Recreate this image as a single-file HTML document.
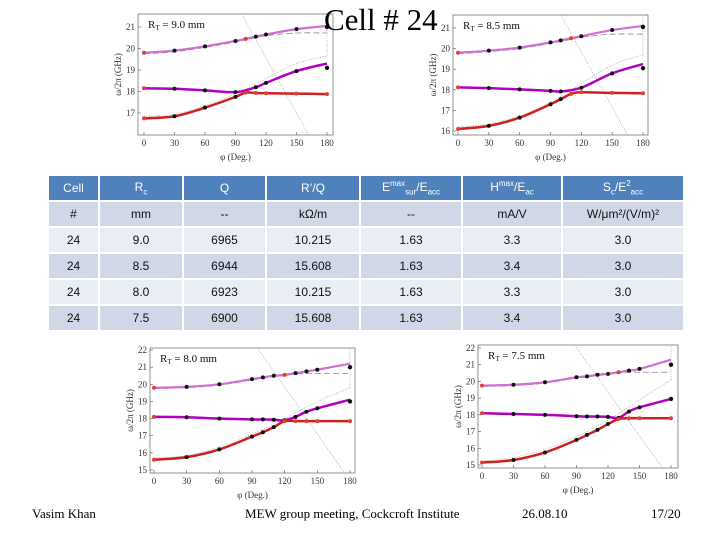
<!DOCTYPE html>
<html><head><meta charset="utf-8"><style>
body{margin:0;width:720px;height:540px;background:#fff;position:relative;overflow:hidden;font-family:"Liberation Serif",serif}
.t{position:absolute;white-space:nowrap}
table{position:absolute;left:49px;top:174px;border-collapse:separate;border-spacing:0 2px;font-family:"Liberation Sans Narrow","Liberation Sans",sans-serif;font-size:12px;color:#111}
td{height:24px;text-align:center;padding:0;border-right:2px solid #fff}
tr.h td{background:#4f81bd;color:#fff}
tr.d td{background:#d0d8e8}
tr.l td{background:#e9edf4}
sub,sup{font-size:8px}
</style></head><body>
<svg id="sv" width="720" height="540" style="position:absolute;left:0;top:0"></svg>
<div class="t" style="left:324px;top:2px;font-size:31px">Cell # 24</div>
<table>
<tr class="h"><td style="width:49px">Cell</td><td style="width:82px">R<sub>c</sub></td><td style="width:81px">Q</td><td style="width:92px">R’/Q</td><td style="width:100px">E<sup>max</sup><sub>sur</sub>/E<sub>acc</sub></td><td style="width:98px">H<sup>max</sup>/E<sub>ac</sub></td><td style="width:120px;border-right:0">S<sub>c</sub>/E<sup>2</sup><sub>acc</sub></td></tr>
<tr class="d"><td>#</td><td>mm</td><td>--</td><td>kΩ/m</td><td>--</td><td>mA/V</td><td style="border-right:0">W/μm²/(V/m)²</td></tr>
<tr class="l"><td>24</td><td>9.0</td><td>6965</td><td>10.215</td><td>1.63</td><td>3.3</td><td style="border-right:0">3.0</td></tr>
<tr class="d"><td>24</td><td>8.5</td><td>6944</td><td>15.608</td><td>1.63</td><td>3.4</td><td style="border-right:0">3.0</td></tr>
<tr class="l"><td>24</td><td>8.0</td><td>6923</td><td>10.215</td><td>1.63</td><td>3.3</td><td style="border-right:0">3.0</td></tr>
<tr class="d"><td>24</td><td>7.5</td><td>6900</td><td>15.608</td><td>1.63</td><td>3.4</td><td style="border-right:0">3.0</td></tr>
</table>
<div class="t" style="left:32px;top:506px;font-size:13px">Vasim Khan</div>
<div class="t" style="left:245px;top:506px;font-size:13px">MEW group meeting, Cockcroft Institute</div>
<div class="t" style="left:522px;top:506px;font-size:13px">26.08.10</div>
<div class="t" style="left:651px;top:506px;font-size:13px">17/20</div>
<script>
const phi9=[0,30,60,90,100,110,120,150,180];
const up9=[19.8,19.9,20.1,20.35,20.45,20.55,20.65,20.9,21.05];
const mphi9=[0,30,60,90,110,120,150,180];
const mid9=[18.15,18.13,18.05,17.97,18.2,18.4,18.95,19.3];
const low9=[16.75,16.85,17.25,17.75,17.95,17.93,17.92,17.9,17.88];
const phi85=[0,30,60,90,100,110,120,150,180];
const up85=[19.8,19.9,20.05,20.3,20.4,20.5,20.6,20.9,21.1];
const mphi85=[0,30,60,90,100,120,150,180];
const mid85=[18.12,18.08,18.02,17.95,17.92,18.1,18.8,19.25];
const low85=[16.1,16.25,16.65,17.3,17.55,17.8,17.88,17.85,17.83];
const phi8=[0,30,60,90,100,110,120,130,140,150,180];
const up8=[19.8,19.85,20.0,20.3,20.4,20.5,20.55,20.65,20.75,20.85,21.2];
const mid8=[18.1,18.08,18.0,17.95,17.95,17.93,17.9,18.1,18.4,18.6,19.1];
const low8=[15.6,15.75,16.2,16.95,17.2,17.5,17.85,17.85,17.85,17.85,17.85];
const up75=[19.75,19.8,19.95,20.25,20.3,20.4,20.45,20.55,20.65,20.75,21.3];
const mid75=[18.1,18.05,18.0,17.92,17.9,17.9,17.88,17.82,18.2,18.45,18.95];
const low75=[15.15,15.3,15.75,16.5,16.8,17.1,17.45,17.75,17.8,17.8,17.8];
const xTicks=[0,30,60,90,120,150,180];
const dot9=[16.85,16.95,17.35,17.9,18.6,19.3,19.65];
const dot85=[16.2,16.35,16.75,17.4,18.3,19.2,19.7];
const dot8=[15.7,15.85,16.35,17.1,18.0,19.0,19.8];
const dot75=[15.25,15.45,15.95,16.7,17.7,18.9,20.1];
const end9=[19.1,21.0], end85=[19.05,21.05], end8=[19.0,21.0], end75=[18.95,21.0];
const NS='http://www.w3.org/2000/svg';
const sv=document.getElementById('sv');
function mk(tag,a,p){const e=document.createElementNS(NS,tag);for(const k in a)e.setAttribute(k,a[k]);(p||sv).appendChild(e);return e;}
function path(pts){let d='M'+pts[0][0]+','+pts[0][1];for(let i=0;i<pts.length-1;i++){const p0=pts[i-1]||pts[i],p1=pts[i],p2=pts[i+1],p3=pts[i+2]||p2;d+=' C'+(p1[0]+(p2[0]-p0[0])/6)+','+(p1[1]+(p2[1]-p0[1])/6)+' '+(p2[0]-(p3[0]-p1[0])/6)+','+(p2[1]-(p3[1]-p1[1])/6)+' '+p2[0]+','+p2[1];}return d;}
function chart(c){
 const g=mk('g',{});
 
 
 const X=v=>c.x0+(c.x180-c.x0)*v/180, Y=v=>c.ya+(v-c.va)*(c.yb-c.ya)/(c.vb-c.va);
 const fr=mk('rect',{x:c.fl,y:c.ft,width:c.fr-c.fl,height:c.fb-c.ft,fill:'#fff',stroke:'#777','stroke-width':0.8},g);
 
 
 xTicks.forEach(t=>{mk('line',{x1:X(t),x2:X(t),y1:c.fb,y2:c.fb-3,stroke:'#555','stroke-width':0.6},g);
  const tx=mk('text',{x:X(t),y:c.fb+11,'font-size':9,'text-anchor':'middle',fill:'#333'},g);tx.textContent=t;
  });
 for(let v=c.ymin;v<=c.ymax;v++){mk('line',{x1:c.fl,x2:c.fl+3,y1:Y(v),y2:Y(v),stroke:'#555','stroke-width':0.6},g);
  const ty=mk('text',{x:c.fl-3,y:Y(v)+3,'font-size':9,'text-anchor':'end',fill:'#333'},g);ty.textContent=v;
  }
 const xl=mk('text',{x:(c.fl+c.fr)/2,y:c.fb+25,'font-size':9,'text-anchor':'middle',fill:'#333'},g);xl.textContent='φ (Deg.)';
 
 const yl=mk('text',{x:0,y:0,'font-size':9,'text-anchor':'middle',fill:'#333',transform:'translate('+(c.fl-17)+','+((c.ft+c.fb)/2)+') rotate(-90)'},g);yl.textContent='ω/2π (GHz)';
 
 const cl=mk('clipPath',{id:'cp'+c.id},g);mk('rect',{x:c.fl,y:c.ft,width:c.fr-c.fl,height:c.fb-c.ft},cl);
 const pg=mk('g',{'clip-path':'url(#cp'+c.id+')'},g);
 mk('line',{x1:X(c.dl[0]),y1:c.ft,x2:X(c.dl[1]),y2:c.fb,stroke:'#999','stroke-width':0.7,'stroke-dasharray':'1,1.5'},pg);
 mk('path',{d:path(xTicks.map((t,i)=>[X(t),Y(c.dot[i])])),fill:'none',stroke:'#999','stroke-width':0.7,'stroke-dasharray':'1,1.5'},pg);
 mk('line',{x1:X(180),y1:Y(c.dot[6]),x2:X(180),y2:c.ft,stroke:'#999','stroke-width':0.7,'stroke-dasharray':'1,1.5'},pg);
 mk('path',{d:path(c.up.map((v,i)=>[X(c.up_p[i]),Y(Math.min(v-0.05,c.dashMax))])),fill:'none',stroke:'#888','stroke-width':0.8,'stroke-dasharray':'6,3'},pg);
 const sers=[[c.up_p,c.up,'#d070d0',2.2,'upper-band'],[c.mp,c.mid,'#b000c0',2.5,'middle-band'],[c.lp,c.low,'#cc2020',2.5,'lower-band']];
 sers.forEach(s=>{const p=mk('path',{d:path(s[0].map((t,i)=>[X(t),Y(s[1][i])])),fill:'none',stroke:s[2],'stroke-width':s[3]},pg);
  
  s[0].forEach((t,i)=>{if(t==180&&s[4]!='lower-band')return;const red=(i==0)||(s[4]=='lower-band'&&t>=c.cross)||(s[4]=='upper-band'&&t==c.cross);
   const d=mk('circle',{cx:X(t),cy:Y(s[1][i]),r:2,fill:red?'#e04030':'#111'},pg);
   });});
 c.end.forEach(v=>{const d=mk('circle',{cx:X(180),cy:Y(v),r:2.2,fill:'#111'},pg);
  });
 const lb=mk('text',{x:c.fl+10,y:c.ft+14,'font-size':11,fill:'#111'},g);lb.textContent='R';
 const ts=mk('tspan',{'font-size':7,dy:2},lb);ts.textContent='T';
 const ts2=mk('tspan',{dy:-2},lb);ts2.textContent=' = '+c.id+' mm';
 
}
chart({id:'9.0',fl:138,fr:333,ft:14,fb:135,x0:144,x180:327,va:21,ya:27,vb:17,yb:113,ymin:17,ymax:21,up_p:phi9,up:up9,mp:mphi9,mid:mid9,lp:phi9,low:low9,cross:100,dl:[96,162],dashMax:20.72,dot:dot9,end:end9});
chart({id:'8.5',fl:453,fr:648,ft:15,fb:135,x0:458,x180:643,va:21,ya:28,vb:16,yb:131,ymin:16,ymax:21,up_p:phi85,up:up85,mp:mphi85,mid:mid85,lp:phi85,low:low85,cross:110,dl:[100,165],dashMax:20.7,dot:dot85,end:end85});
chart({id:'8.0',fl:150,fr:355,ft:348,fb:473,x0:154,x180:350,va:22,ya:350,vb:15,yb:470,ymin:15,ymax:22,up_p:phi8,up:up8,mp:phi8,mid:mid8,lp:phi8,low:low8,cross:120,dl:[95,175],dashMax:20.62,dot:dot8,end:end8});
chart({id:'7.5',fl:478,fr:678,ft:345,fb:468,x0:482,x180:671,va:22,ya:348,vb:15,yb:465,ymin:15,ymax:22,up_p:phi8,up:up75,mp:phi8,mid:mid75,lp:phi8,low:low75,cross:130,dl:[88,172],dashMax:20.55,dot:dot75,end:end75});
</script>
</body></html>
